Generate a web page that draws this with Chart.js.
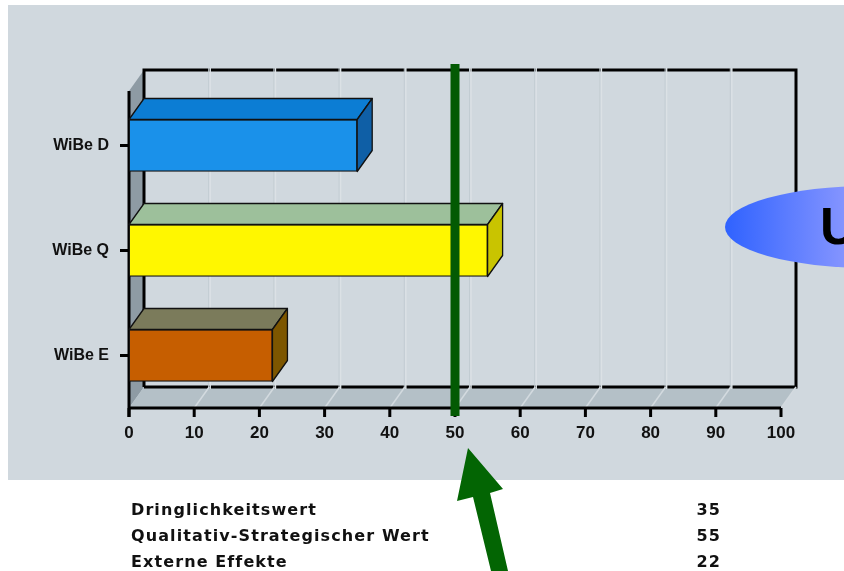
<!DOCTYPE html>
<html>
<head>
<meta charset="utf-8">
<script src="https://cdn.jsdelivr.net/npm/chart.js@4/dist/chart.umd.min.js"></script>
<style>
  html,body{margin:0;padding:0;background:#fff;width:844px;height:571px;overflow:hidden;position:relative;}
  #c{position:absolute;left:0;top:0;}
  #ell{position:absolute;left:725px;top:186px;width:290px;height:82px;border-radius:50%;
       background:linear-gradient(to right,#2f62ff 0%,#8494ff 41%,#a8b6ff 100%);}
  #u{position:absolute;left:820px;top:196px;font:bold 52px "Liberation Sans",Arial,sans-serif;color:#000;line-height:60px;}
  .tbl{position:absolute;top:497px;font:bold 16px "DejaVu Sans",Verdana,sans-serif;letter-spacing:1.1px;color:#111;line-height:26px;}
  #lab{left:131px;}
  #val{right:123px;text-align:right;}
</style>
</head>
<body>
<canvas id="c" width="844" height="571"></canvas>
<div id="ell"></div>
<div id="u">U</div>
<div id="lab" class="tbl"></div>
<div id="val" class="tbl"></div>
<script>
// ---- data ----
const categories = ['WiBe D', 'WiBe Q', 'WiBe E'];
const values = [35, 55, 22];
const tableLabels = ['Dringlichkeitswert', 'Qualitativ-Strategischer Wert', 'Externe Effekte'];
const threshold = [50];
const axisMin = 0, axisMax = 100, axisStep = 10;

// ---- styles ----
const frontColors = ['#1a91ea', '#fff700', '#c65e00'];
const topColors = ['#0c7dd4', '#9dc09b', '#7b7b5b'];
const sideColors = ['#0f5fa6', '#c9c400', '#7d5600'];
const DX = 15, DY = 21;

document.getElementById('lab').innerHTML = tableLabels.map(t => '<div>' + t + '</div>').join('');
document.getElementById('val').innerHTML = values.map(v => '<div>' + v + '</div>').join('');

const threeD = {
  id: 'threeD',
  beforeDraw(chart) {
    const ctx = chart.ctx;
    ctx.save();
    ctx.fillStyle = '#d0d8de';
    ctx.fillRect(8, 5, 836, 475);
    ctx.restore();
  },
  beforeDatasetsDraw(chart) {
    const ctx = chart.ctx, a = chart.chartArea, xs = chart.scales.x;
    const L = a.left, R = a.right, B = a.bottom;
    const backTop = a.top - 23, frontTop = backTop + DY;
    ctx.save();
    // left wall
    ctx.fillStyle = '#8e9ba4';
    ctx.beginPath();
    ctx.moveTo(L, frontTop); ctx.lineTo(L + DX, backTop); ctx.lineTo(L + DX, B - DY); ctx.lineTo(L, B);
    ctx.closePath(); ctx.fill();
    // floor
    ctx.fillStyle = '#b4c0c7';
    ctx.beginPath();
    ctx.moveTo(L, B); ctx.lineTo(L + DX, B - DY); ctx.lineTo(R + DX, B - DY); ctx.lineTo(R, B);
    ctx.closePath(); ctx.fill();
    // back wall frame
    ctx.strokeStyle = '#000'; ctx.lineWidth = 3;
    ctx.beginPath();
    ctx.moveTo(L + DX, B - DY); ctx.lineTo(L + DX, backTop); ctx.lineTo(R + DX, backTop); ctx.lineTo(R + DX, B - DY);
    ctx.lineTo(L + DX, B - DY);
    ctx.stroke();
    // grid lines on back wall and floor
    for (let v = axisMin + axisStep; v < axisMax; v += axisStep) {
      const x = xs.getPixelForValue(v);
      ctx.strokeStyle = '#c2ccd2'; ctx.lineWidth = 1;
      ctx.beginPath(); ctx.moveTo(x + DX - 0.5, backTop - 2); ctx.lineTo(x + DX - 0.5, B - DY + 2); ctx.stroke();
      ctx.strokeStyle = '#dbe1e5'; ctx.lineWidth = 1.5;
      ctx.beginPath(); ctx.moveTo(x + DX + 1, backTop - 2); ctx.lineTo(x + DX + 1, B - DY + 2); ctx.stroke();
      ctx.strokeStyle = '#d3dadf'; ctx.lineWidth = 1.5;
      ctx.beginPath(); ctx.moveTo(x, B); ctx.lineTo(x + DX, B - DY); ctx.stroke();
    }
    // floor right edge
    ctx.strokeStyle = '#d3dadf'; ctx.lineWidth = 1.5;
    ctx.beginPath(); ctx.moveTo(R, B); ctx.lineTo(R + DX, B - DY); ctx.stroke();
    // front axes
    ctx.strokeStyle = '#000'; ctx.lineWidth = 3;
    ctx.beginPath(); ctx.moveTo(L, frontTop); ctx.lineTo(L, B + 9); ctx.stroke();
    ctx.beginPath(); ctx.moveTo(L, B); ctx.lineTo(R, B); ctx.stroke();
    for (let v = axisMin; v <= axisMax; v += axisStep) {
      const x = xs.getPixelForValue(v);
      ctx.beginPath(); ctx.moveTo(x, B); ctx.lineTo(x, B + 9); ctx.stroke();
    }
    const ys = chart.scales.y;
    categories.forEach((c, i) => {
      const y = ys.getPixelForValue(i);
      ctx.beginPath(); ctx.moveTo(L - 9, y); ctx.lineTo(L, y); ctx.stroke();
    });
    ctx.restore();
  },
  afterDatasetsDraw(chart) {
    const ctx = chart.ctx;
    const meta = chart.getDatasetMeta(0);
    ctx.save();
    ctx.strokeStyle = '#111'; ctx.lineWidth = 1.3; ctx.lineJoin = 'round';
    meta.data.forEach((el, i) => {
      const p = el.getProps(['x', 'y', 'base', 'height'], true);
      const x0 = p.base, x1 = p.x, t = p.y - p.height / 2, b = p.y + p.height / 2;
      // top face
      ctx.fillStyle = topColors[i];
      ctx.beginPath();
      ctx.moveTo(x0, t); ctx.lineTo(x0 + DX, t - DY); ctx.lineTo(x1 + DX, t - DY); ctx.lineTo(x1, t);
      ctx.closePath(); ctx.fill(); ctx.stroke();
      // side face
      ctx.fillStyle = sideColors[i];
      ctx.beginPath();
      ctx.moveTo(x1, t); ctx.lineTo(x1 + DX, t - DY); ctx.lineTo(x1 + DX, b - DY); ctx.lineTo(x1, b);
      ctx.closePath(); ctx.fill(); ctx.stroke();
    });
    ctx.restore();
  },
  afterDraw(chart) {
    const ctx = chart.ctx, xs = chart.scales.x;
    const gx = xs.getPixelForValue(threshold[0]);
    ctx.save();
    ctx.fillStyle = '#035a03';
    ctx.fillRect(gx - 4.5, 64, 9, 352);
    // arrow
    ctx.fillStyle = '#036503';
    ctx.beginPath();
    ctx.moveTo(468, 448);
    ctx.lineTo(503, 489);
    ctx.lineTo(490, 493);
    ctx.lineTo(508, 571);
    ctx.lineTo(491, 571);
    ctx.lineTo(473, 497);
    ctx.lineTo(457, 501);
    ctx.closePath();
    ctx.fill();
    ctx.restore();
  }
};

new Chart(document.getElementById('c'), {
  type: 'bar',
  data: {
    labels: categories,
    datasets: [{
      data: values,
      backgroundColor: frontColors,
      borderColor: '#111',
      borderWidth: 1.3,
      borderSkipped: false,
      barThickness: 52
    }]
  },
  options: {
    indexAxis: 'y',
    responsive: false,
    animation: false,
    events: [],
    layout: { padding: { top: 93, right: 63, bottom: 113, left: 0 } },
    plugins: { legend: { display: false }, tooltip: { enabled: false } },
    scales: {
      x: {
        min: axisMin, max: axisMax,
        ticks: { stepSize: axisStep, padding: 7, color: '#111', font: { family: '"Liberation Sans", Arial, sans-serif', size: 17, weight: 'bold' } },
        grid: { display: false }, border: { display: false },
        afterFit(s) { s.height = 50; }
      },
      y: {
        ticks: { padding: 12, color: '#111', font: { family: '"Liberation Sans", Arial, sans-serif', size: 16, weight: 'bold' } },
        grid: { display: false }, border: { display: false },
        afterFit(s) { s.width = 129; }
      }
    }
  },
  plugins: [threeD]
});
</script>
</body>
</html>
